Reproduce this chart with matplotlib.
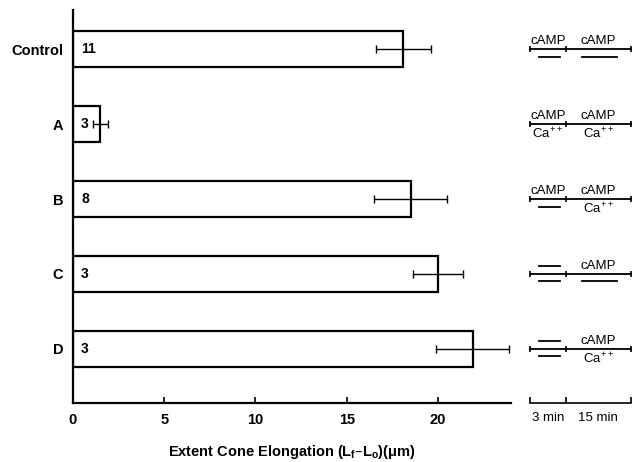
import matplotlib.pyplot as plt

plt.rcParams['font.family'] = ['Liberation Sans', 'DejaVu Sans']
plt.rcParams['mathtext.default'] = 'regular'

groups = ['Control', 'A', 'B', 'C', 'D']
means = [18.1, 1.5, 18.5, 20.0, 21.9]
errs = [1.5, 0.4, 2.0, 1.35, 2.0]
n_cells = [11, 3, 8, 3, 3]

# treatment during the 3 min and 15 min periods ('' = none)
top_3min = ['cAMP', 'cAMP', 'cAMP', '', '']
bottom_3min = ['', 'Ca$^{++}$', '', '', '']
top_15min = ['cAMP', 'cAMP', 'cAMP', 'cAMP', 'cAMP']
bottom_15min = ['', 'Ca$^{++}$', 'Ca$^{++}$', '', 'Ca$^{++}$']
period_labels = ['3 min', '15 min']
period_edges = [0, 1, 2.78]

fig = plt.figure(figsize=(6.34, 4.62), dpi=100)
ax = fig.add_axes([0.115, 0.128, 0.691, 0.85])
ax2 = fig.add_axes([0.834, 0.128, 0.1625, 0.85])

ypos = list(range(len(groups) - 1, -1, -1))

ax.barh(ypos, means, height=0.48, color='white', edgecolor='black', linewidth=1.6,
        xerr=errs, error_kw=dict(ecolor='black', elinewidth=1.0, capsize=3, capthick=1.0))
for y, n in zip(ypos, n_cells):
    ax.text(0.45, y, str(n), ha='left', va='center', fontsize=10, fontweight='bold')

ax.set_xlim(0, 24)
ax.set_ylim(-0.72, 4.52)
ax.set_yticks(ypos)
ax.set_yticklabels(groups, fontsize=10.5, fontweight='bold')
ax.tick_params(axis='y', length=0, pad=7)
ax.set_xticks([0, 5, 10, 15, 20])
ax.tick_params(axis='x', direction='in', length=4, width=1.2, pad=7, labelsize=10.5)
for lab in ax.get_xticklabels():
    lab.set_fontweight('bold')
for s in ['top', 'right']:
    ax.spines[s].set_visible(False)
ax.spines['left'].set_linewidth(1.6)
ax.spines['bottom'].set_linewidth(1.6)
ax.set_xlabel('Extent Cone Elongation (L$_f$\u2013L$_o$)(\u03bcm)', fontsize=10.5,
              fontweight='bold', labelpad=12)

# timeline panel
ax2.set_xlim(-0.03, 2.81)
ax2.set_ylim(-0.72, 4.52)
ax2.set_yticks([])
for s in ['top', 'right', 'left']:
    ax2.spines[s].set_visible(False)
ax2.spines['bottom'].set_linewidth(1.2)
ax2.spines['bottom'].set_bounds(period_edges[0], period_edges[-1])
ax2.set_xticks(period_edges)
ax2.set_xticklabels([])
ax2.tick_params(axis='x', direction='in', length=4, width=1.2)
mids = [(period_edges[i] + period_edges[i + 1]) / 2 for i in range(2)]
for m, lab in zip(mids, period_labels):
    ax2.text(m, -0.72 - 0.2, lab, ha='center', va='center', fontsize=9.5)

dash_spans = [(0.24, 0.84), (1.43, 2.4)]
for y, t3, b3, t15, b15 in zip(ypos, top_3min, bottom_3min, top_15min, bottom_15min):
    ax2.plot([period_edges[0], period_edges[-1]], [y, y], color='black', lw=1.3)
    ax2.plot(period_edges, [y] * 3, ls='none', marker='|', ms=5, mew=1.2, color='black')
    for i, (top, bot) in enumerate([(t3, b3), (t15, b15)]):
        if top:
            ax2.text(mids[i], y + 0.03, top, ha='center', va='bottom', fontsize=9.5)
        else:
            ax2.plot(dash_spans[i], [y + 0.1, y + 0.1], color='black', lw=1.3)
        if bot:
            ax2.text(mids[i], y - 0.03, bot, ha='center', va='top', fontsize=9.5)
        else:
            ax2.plot(dash_spans[i], [y - 0.1, y - 0.1], color='black', lw=1.3)

fig.savefig('out.png', dpi=100)
